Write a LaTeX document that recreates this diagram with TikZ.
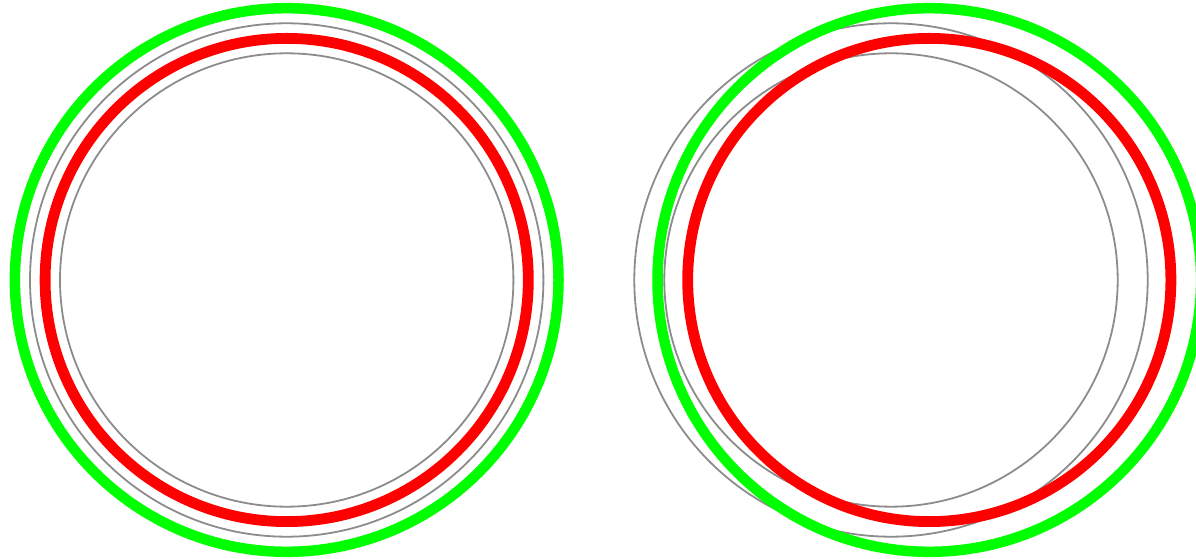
\documentclass[tikz,border=0pt]{standalone}
\definecolor{ringgray}{HTML}{8C8C8C}
\definecolor{brightgreen}{HTML}{00FF00}
\definecolor{brightred}{HTML}{FF0000}
\begin{document}
\begin{tikzpicture}[x=1pt, y=1pt,
  ring/.style={draw=ringgray, line width=1.8pt},
  outer/.style={draw=brightgreen, line width=10.5pt},
  inner/.style={draw=brightred, line width=10.8pt}]
  \useasboundingbox (0,0) rectangle (1196,559);
  \clip (0,0) rectangle (1196,559);
  \coordinate (lc) at (286.7,279);
  \coordinate (rg) at (891,279);
  \coordinate (rc) at (929.3,279);
  % left: all rings share one centre
  \draw[ring] (lc) circle[radius=226.7pt];
  \draw[ring] (lc) circle[radius=256.7pt];
  \draw[inner] (lc) circle[radius=241.6pt];
  \draw[outer] (lc) circle[radius=271.8pt];
  % right: coloured rings shifted
  \draw[ring] (rg) circle[radius=226.7pt];
  \draw[ring] (rg) circle[radius=256.7pt];
  \draw[inner] (rc) circle[radius=241.6pt];
  \draw[outer] (rc) circle[radius=271.8pt];
\end{tikzpicture}
\end{document}
